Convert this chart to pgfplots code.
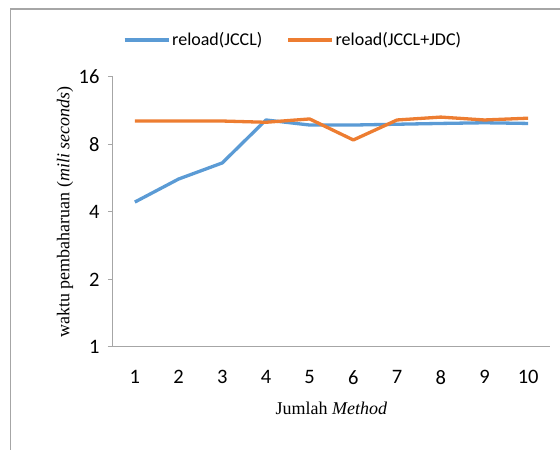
\documentclass[border=0pt]{standalone}
\usepackage{pgfplots}
\pgfplotsset{compat=1.18}
\usepackage{fontspec}
\setmainfont{Liberation Serif}
\newfontfamily\carlito{Carlito}
\definecolor{xlblue}{HTML}{5B9BD5}
\definecolor{xlorange}{HTML}{ED7D31}
\definecolor{axgray}{HTML}{A6A6A6}
\begin{document}
\begin{tikzpicture}
\path[use as bounding box] (0pt,0pt) rectangle (560pt,450pt);
% chart frame (only top and left edge visible in the crop)
\draw[axgray, line width=1.5pt] (560pt,441pt) -- (10.5pt,441pt) -- (10.5pt,0pt);
\begin{axis}[
    at={(113pt,103pt)}, anchor=south west,
    scale only axis,
    width=437pt, height=270pt,
    ymode=log, log basis y=2,
    ymin=1, ymax=16,
    ytick={1,2,4,8,16},
    yticklabels={1,2,4,8,16},
    xmin=0.5, xmax=10.5,
    xtick={1,...,10},
    xticklabels={1,2,3,4,5,6,7,8,9,10},
    axis x line*=bottom, axis y line*=left,
    axis line style={axgray, line width=1pt, -},
    x axis line style={shorten <=-5pt},
    major x tick style={draw=none},
    major y tick style={axgray, line width=1pt},
    tick align=outside, major tick length=5pt,
    ticklabel style={font=\carlito\fontsize{20.5}{20.5}\selectfont},
    /pgf/number format/assume math mode=true,
    xticklabel style={yshift=-15pt},
    yticklabel style={xshift=-5pt},
    xlabel={Jumlah \textit{Method}},
    ylabel={waktu pembaharuan (\textit{mili seconds})},
    label style={font=\fontsize{18}{18}\selectfont},
    xlabel style={at={(axis description cs:0.5,-0.228)}, anchor=center},
    ylabel style={at={(axis description cs:-0.11,0.5)}, anchor=center},
    legend style={at={(0.412,1.137)}, anchor=center, draw=none,
        legend columns=2, font=\carlito\fontsize{18}{18}\selectfont,
        /tikz/every even column/.append style={column sep=22pt}},
    legend cell align=left,
    legend image code/.code={\draw[#1] (0pt,0pt) -- (44pt,0pt);},
    clip=false,
]
\addplot[xlblue, line width=3.3pt, line join=round] coordinates {
    (1,4.43) (2,5.61) (3,6.62) (4,10.29) (5,9.77)
    (6,9.77) (7,9.85) (8,9.93) (9,10.0) (10,9.93)};
\addplot[xlorange, line width=3.3pt, line join=round] coordinates {
    (1,10.18) (2,10.18) (3,10.18) (4,10.05) (5,10.4)
    (6,8.38) (7,10.29) (8,10.6) (9,10.29) (10,10.48)};
\legend{reload(JCCL), reload(JCCL+JDC)}
\end{axis}
\end{tikzpicture}
\end{document}
